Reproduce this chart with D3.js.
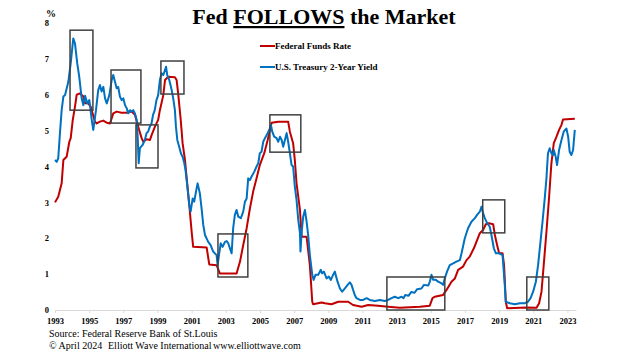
<!DOCTYPE html>
<html>
<head>
<meta charset="utf-8">
<script src="https://cdn.jsdelivr.net/npm/d3@7"></script>
<style>
  body { margin: 0; background: #fff; }
  svg { display: block; font-family: 'Liberation Serif', 'Times New Roman', serif; }
  .axis text { font-family: 'Liberation Serif', serif; font-weight: bold; font-size: 8.5px; fill: #000; }
  .x.axis path, .x.axis line { stroke: #d9d9d9; }
  .line { fill: none; stroke-width: 2; stroke-linejoin: round; }
  .box { fill: none; stroke: #404040; stroke-width: 1.5; }
</style>
</head>
<body>
<svg id="chart" width="624" height="351"></svg>
<script>
// Federal Funds Rate (%)
const fedDates = [1993.00, 1993.19, 1993.39, 1993.49, 1993.68, 1993.84, 1993.92, 1994.04, 1994.17, 1994.27,
  1994.46, 1994.66, 1994.76, 1994.95, 1995.09, 1995.15, 1995.34, 1995.44, 1995.63, 1995.83,
  1996.03, 1996.22, 1996.41, 1996.61, 1996.90, 1997.20, 1997.49, 1997.68, 1997.87, 1998.07,
  1998.17, 1998.37, 1998.56, 1998.66, 1998.85, 1999.04, 1999.14, 1999.34, 1999.44, 1999.63,
  2000.02, 2000.12, 2000.21, 2000.36, 2000.47, 2000.61, 2000.71, 2000.86, 2001.00, 2001.09,
  2001.88, 2002.03, 2002.46, 2002.65, 2003.63, 2003.83, 2004.02, 2004.22, 2004.41, 2004.60,
  2004.80, 2004.99, 2005.25, 2005.45, 2005.58, 2005.68, 2006.07, 2006.65, 2006.75, 2006.94,
  2007.04, 2007.14, 2007.34, 2007.44, 2007.73, 2007.92, 2008.06, 2008.11, 2008.61, 2008.80,
  2009.19, 2009.58, 2010.16, 2010.45, 2010.95, 2011.33, 2011.92, 2012.50, 2013.19, 2014.36,
  2014.94, 2015.10, 2015.23, 2015.72, 2015.92, 2016.21, 2016.41, 2016.60, 2016.89, 2017.09,
  2017.28, 2017.52, 2017.71, 2017.87, 2018.06, 2018.22, 2018.41, 2018.65, 2018.75, 2018.88,
  2019.00, 2019.20, 2019.29, 2019.39, 2019.47, 2020.60, 2021.19, 2021.34, 2021.48, 2021.61,
  2021.77, 2021.92, 2022.06, 2022.20, 2022.36, 2022.51, 2022.65, 2022.74, 2023.43];
const fedRates = [3.00, 3.16, 3.53, 4.18, 4.27, 4.69, 4.79, 5.30, 5.67, 6.00,
  6.04, 5.95, 5.76, 5.76, 5.67, 5.57, 5.25, 5.20, 5.25, 5.28,
  5.22, 5.20, 5.48, 5.53, 5.50, 5.50, 5.53, 5.44, 5.11, 4.79,
  4.69, 4.76, 4.74, 4.88, 5.11, 5.30, 5.57, 5.99, 6.41, 6.50,
  6.49, 6.41, 6.04, 5.30, 4.65, 4.18, 3.67, 2.93, 2.18, 1.76,
  1.74, 1.27, 1.25, 1.02, 1.02, 1.35, 1.81, 2.28, 2.83, 3.30,
  3.67, 4.04, 4.37, 4.74, 5.02, 5.22, 5.25, 5.25, 4.97, 4.65,
  4.18, 3.53, 2.79, 2.04, 2.04, 1.25, 0.23, 0.16, 0.21, 0.19,
  0.16, 0.23, 0.23, 0.14, 0.09, 0.14, 0.12, 0.09, 0.06, 0.09,
  0.12, 0.33, 0.37, 0.42, 0.56, 0.79, 0.88, 1.12, 1.21, 1.39,
  1.49, 1.72, 1.95, 2.14, 2.23, 2.39, 2.42, 2.39, 2.09, 1.81,
  1.58, 1.58, 1.25, 0.23, 0.05, 0.07, 0.06, 0.19, 0.51, 1.25,
  2.18, 3.11, 4.09, 4.65, 4.83, 5.02, 5.16, 5.31, 5.33];

// U.S. Treasury 2-Year Yield (%)
const yieldDates = [1993.00, 1993.10, 1993.19, 1993.29, 1993.39, 1993.49, 1993.59, 1993.78, 1993.92, 1994.07,
  1994.17, 1994.30, 1994.42, 1994.56, 1994.66, 1994.76, 1994.89, 1995.01, 1995.15, 1995.24,
  1995.40, 1995.53, 1995.63, 1995.73, 1995.83, 1995.93, 1996.03, 1996.18, 1996.32, 1996.41,
  1996.51, 1996.61, 1996.70, 1996.80, 1996.90, 1997.00, 1997.10, 1997.20, 1997.29, 1997.39,
  1997.49, 1997.58, 1997.68, 1997.78, 1997.84, 1997.90, 1997.97, 1998.13, 1998.26, 1998.36,
  1998.45, 1998.55, 1998.65, 1998.74, 1998.84, 1998.94, 1999.04, 1999.14, 1999.24, 1999.34,
  1999.44, 1999.50, 1999.57, 1999.69, 1999.83, 1999.92, 2000.02, 2000.08, 2000.16, 2000.27,
  2000.37, 2000.47, 2000.57, 2000.64, 2000.74, 2000.86, 2000.94, 2001.06, 2001.15, 2001.29,
  2001.35, 2001.48, 2001.58, 2001.68, 2001.78, 2001.97, 2002.11, 2002.26, 2002.36, 2002.46,
  2002.52, 2002.60, 2002.70, 2002.81, 2002.95, 2003.05, 2003.14, 2003.34, 2003.43, 2003.53,
  2003.63, 2003.73, 2003.88, 2004.02, 2004.12, 2004.22, 2004.31, 2004.41, 2004.51, 2004.66,
  2004.80, 2004.90, 2004.99, 2005.09, 2005.19, 2005.29, 2005.45, 2005.58, 2005.64, 2005.72,
  2005.83, 2005.97, 2006.07, 2006.17, 2006.27, 2006.36, 2006.46, 2006.56, 2006.65, 2006.75,
  2006.85, 2006.94, 2007.04, 2007.14, 2007.24, 2007.34, 2007.37, 2007.44, 2007.53, 2007.63,
  2007.73, 2007.82, 2007.92, 2008.06, 2008.14, 2008.25, 2008.41, 2008.56, 2008.64, 2008.74,
  2008.90, 2009.03, 2009.15, 2009.28, 2009.38, 2009.54, 2009.68, 2009.81, 2009.97, 2010.13,
  2010.26, 2010.36, 2010.45, 2010.55, 2010.65, 2010.85, 2011.04, 2011.24, 2011.43, 2011.72,
  2012.02, 2012.31, 2012.50, 2012.70, 2012.89, 2013.09, 2013.29, 2013.40, 2013.50, 2013.70,
  2013.85, 2014.05, 2014.20, 2014.45, 2014.60, 2014.85, 2014.95, 2015.04, 2015.14, 2015.29,
  2015.43, 2015.63, 2015.72, 2015.82, 2015.95, 2016.11, 2016.31, 2016.50, 2016.70, 2016.80,
  2016.99, 2017.18, 2017.38, 2017.58, 2017.71, 2017.87, 2017.97, 2018.06, 2018.16, 2018.30,
  2018.45, 2018.55, 2018.69, 2018.81, 2019.00, 2019.20, 2019.33, 2019.39, 2019.63, 2019.92,
  2020.21, 2020.50, 2020.69, 2020.84, 2020.99, 2021.15, 2021.28, 2021.42, 2021.54, 2021.67,
  2021.77, 2021.81, 2021.86, 2021.96, 2022.06, 2022.16, 2022.20, 2022.31, 2022.39, 2022.51,
  2022.65, 2022.78, 2022.94, 2023.04, 2023.13, 2023.23, 2023.33, 2023.43];
const yieldRates = [4.18, 4.13, 4.23, 4.93, 5.57, 5.95, 5.99, 6.36, 6.88, 7.57,
  7.43, 6.88, 6.50, 5.90, 5.71, 5.97, 5.76, 5.85, 5.30, 5.02,
  5.57, 6.13, 6.27, 6.09, 6.22, 5.90, 5.76, 5.99, 6.41, 6.55,
  6.36, 6.18, 6.22, 5.95, 5.85, 5.90, 5.71, 5.62, 5.48, 5.57,
  5.53, 5.57, 5.48, 5.30, 4.83, 4.09, 4.51, 4.60, 4.74, 4.93,
  4.97, 5.11, 5.20, 5.44, 5.57, 5.85, 5.99, 6.41, 6.60, 6.55,
  6.69, 6.78, 6.55, 6.41, 6.13, 5.90, 5.57, 5.11, 4.74, 4.55,
  4.37, 4.27, 4.09, 3.90, 3.48, 2.93, 2.74, 3.11, 3.02, 3.39,
  3.53, 3.25, 2.83, 2.37, 2.09, 1.90, 1.81, 1.63, 1.58, 1.53,
  1.25, 1.53, 1.86, 1.76, 1.90, 1.92, 1.86, 1.58, 2.28, 2.65,
  2.79, 2.60, 2.56, 2.74, 3.02, 3.11, 3.67, 3.62, 3.72, 3.85,
  4.00, 4.09, 4.37, 4.41, 4.69, 4.79, 4.93, 5.06, 5.16, 4.97,
  4.83, 4.79, 4.69, 4.83, 4.74, 4.55, 4.74, 4.93, 4.69, 4.37,
  4.04, 4.00, 3.44, 3.07, 2.51, 2.14, 1.63, 2.18, 2.60, 2.79,
  2.46, 2.09, 1.53, 0.98, 0.84, 0.98, 0.98, 1.12, 1.02, 1.07,
  0.88, 0.93, 0.84, 0.98, 1.07, 0.79, 0.60, 0.51, 0.60, 0.70,
  0.77, 0.70, 0.56, 0.42, 0.33, 0.28, 0.28, 0.33, 0.28, 0.25,
  0.28, 0.25, 0.28, 0.33, 0.37, 0.33, 0.37, 0.33, 0.42, 0.40,
  0.50, 0.48, 0.58, 0.60, 0.70, 0.68, 0.80, 0.98, 0.84, 0.84,
  0.79, 0.74, 0.70, 0.88, 1.07, 1.25, 1.30, 1.35, 1.39, 1.58,
  2.00, 2.28, 2.46, 2.56, 2.65, 2.74, 2.88, 2.70, 2.56, 2.42,
  2.32, 2.09, 1.72, 1.58, 1.58, 1.53, 0.70, 0.23, 0.19, 0.16,
  0.19, 0.19, 0.23, 0.33, 0.51, 0.79, 1.25, 1.90, 2.46, 3.11,
  3.67, 4.00, 4.37, 4.51, 4.37, 4.32, 4.46, 4.27, 4.04, 4.46,
  4.74, 4.97, 5.06, 4.83, 4.41, 4.32, 4.46, 5.02];

// Highlight boxes: [start year, end year, low %, high %]
const boxes = [
  [1993.88, 1995.22, 5.57, 7.80],
  [1996.28, 1998.03, 5.21, 6.69],
  [1997.74, 1999.03, 3.96, 5.16],
  [1999.20, 2000.55, 6.02, 6.94],
  [2002.54, 2004.29, 0.92, 2.12],
  [2005.58, 2007.39, 4.40, 5.44],
  [2012.43, 2015.82, 0.00, 0.92],
  [2018.04, 2019.33, 2.15, 3.07],
  [2020.62, 2021.91, 0.00, 0.92],
];

const xTicks = d3.range(1993, 2024, 2);
const yTicks = d3.range(0, 9);
const seriesNames = ['Federal Funds Rate', 'U.S. Treasury 2-Year Yield'];
const seriesColors = ['#c00000', '#0070c0'];

const svg = d3.select('#chart');

const x = d3.scaleLinear().domain([1993, 2023.5]).range([55, 576]);
const y = d3.scaleLinear().domain([0, 8]).range([310, 23]);

// axes
svg.append('g')
  .attr('class', 'x axis')
  .attr('transform', 'translate(0,310)')
  .call(d3.axisBottom(x).tickValues(xTicks).tickFormat(d3.format('d')).tickSize(3).tickSizeOuter(0))
  .call((g) => g.selectAll('text').attr('dy', '0.9em'));

svg.append('g')
  .attr('class', 'y axis')
  .attr('transform', 'translate(49,0)')
  .call(d3.axisLeft(y).tickValues(yTicks).tickSize(0).tickPadding(0))
  .call((g) => g.select('.domain').remove());

svg.append('text')
  .attr('x', 46)
  .attr('y', 17)
  .attr('font-size', 10)
  .attr('font-weight', 'bold')
  .text('%');

// series
const line = d3.line()
  .x((d) => x(d[0]))
  .y((d) => y(d[1]));

const series = [
  d3.zip(fedDates, fedRates),
  d3.zip(yieldDates, yieldRates),
];

svg.selectAll('path.line')
  .data(series)
  .enter()
  .append('path')
  .attr('class', 'line')
  .attr('stroke', (d, i) => seriesColors[i])
  .attr('d', line);

// boxes
svg.selectAll('rect.box')
  .data(boxes)
  .enter()
  .append('rect')
  .attr('class', 'box')
  .attr('x', (d) => x(d[0]))
  .attr('y', (d) => y(d[3]))
  .attr('width', (d) => x(d[1]) - x(d[0]))
  .attr('height', (d) => y(d[2]) - y(d[3]));

// title
const title = svg.append('text')
  .attr('x', 324)
  .attr('y', 24)
  .attr('text-anchor', 'middle')
  .attr('font-size', 22)
  .attr('font-weight', 'bold');
title.append('tspan').text('Fed ');
title.append('tspan').attr('text-decoration', 'underline').text('FOLLOWS');
title.append('tspan').text(' the Market');

// legend
const legend = svg.selectAll('g.legend')
  .data(seriesNames)
  .enter()
  .append('g')
  .attr('class', 'legend')
  .attr('transform', (d, i) => `translate(260,${46 + i * 21})`);

legend.append('line')
  .attr('x1', 0)
  .attr('x2', 15)
  .attr('stroke', (d, i) => seriesColors[i])
  .attr('stroke-width', 2);

legend.append('text')
  .attr('x', 15)
  .attr('dy', '0.33em')
  .attr('font-size', 9)
  .attr('font-weight', 'bold')
  .text((d) => d);

// footer
svg.append('text')
  .attr('x', 49)
  .attr('y', 337)
  .attr('font-size', 10)
  .text('Source: Federal Reserve Bank of St.Louis');

const foot = [['© April 2024', 49], ['Elliott Wave International', 108], ['www.elliottwave.com', 213]];
svg.selectAll('text.foot')
  .data(foot)
  .enter()
  .append('text')
  .attr('class', 'foot')
  .attr('x', (d) => d[1])
  .attr('y', 349)
  .attr('font-size', 10)
  .text((d) => d[0]);
</script>
</body>
</html>
